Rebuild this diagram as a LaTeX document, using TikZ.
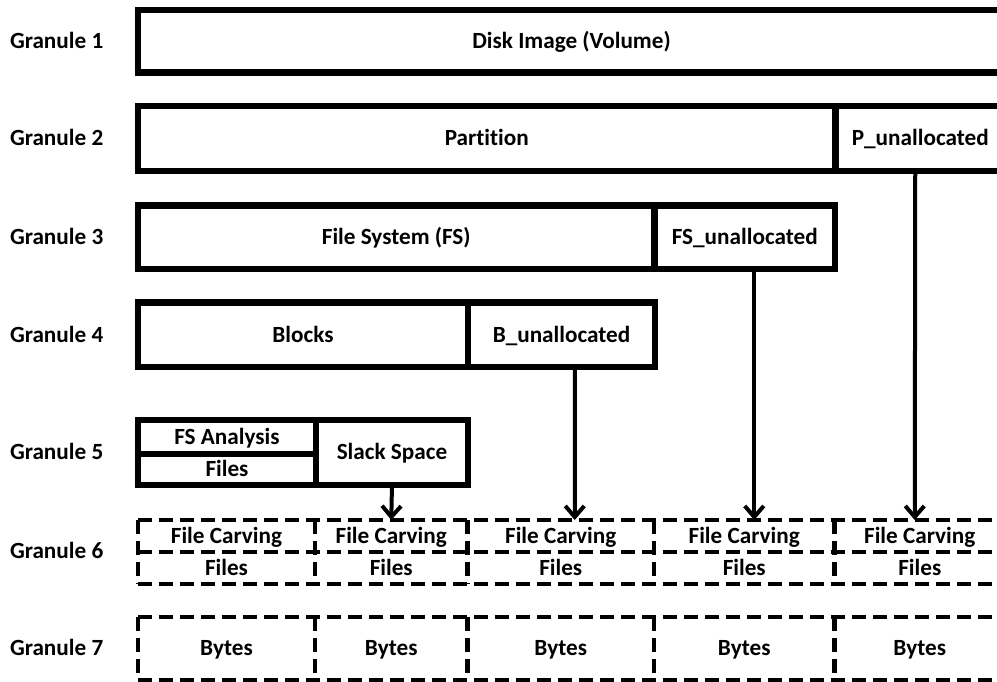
\documentclass[tikz,border=0pt]{standalone}
\usepackage{fontspec}
\setmainfont{Carlito}[RawFeature=-liga]
\usetikzlibrary{arrows.meta}
\begin{document}
\begin{tikzpicture}[x=1pt,y=-1pt,
  every node/.style={font=\fontsize{23.2}{27}\selectfont\bfseries,
    inner sep=0pt, outer sep=0pt, text height=14.8pt, text depth=0pt},
  lbl/.style={anchor=west},
  solidbox/.style={draw, rectangle, line width=6.5pt},
  cellbox/.style={rectangle},
  dashline/.style={line width=4.5pt, dash pattern=on 14pt off 7pt},
  arr/.style={line width=4pt, -{Straight Barb[length=11pt,width=19pt]}}]
\useasboundingbox (0,0) rectangle (997,681);
\clip (0,0) rectangle (997,681);

% row labels
\node[lbl] (g1) at (10,41.25) {Granule 1};
\node[lbl] (g2) at (10,138.5) {Granule 2};
\node[lbl] (g3) at (10,237.25) {Granule 3};
\node[lbl] (g4) at (10,334.75) {Granule 4};
\node[lbl] (g5) at (10,452.5) {Granule 5};
\node[lbl] (g6) at (10,551) {Granule 6};
\node[lbl] (g7) at (10,648.5) {Granule 7};

% granule 1
\node[solidbox, minimum width=867pt, minimum height=62.5pt] (disk) at (571.5,41.25) {Disk Image (Volume)};
% granule 2
\node[solidbox, minimum width=697.5pt, minimum height=65pt] (part) at (486.75,138.5) {Partition};
\node[solidbox, minimum width=169.5pt, minimum height=65pt] (pun) at (920.25,138.5) {P\_unallocated};
% granule 3
\node[solidbox, minimum width=516.5pt, minimum height=63.5pt] (fs) at (396.25,237.25) {File System (FS)};
\node[solidbox, minimum width=180.5pt, minimum height=63.5pt] (fsun) at (744.75,237.25) {FS\_unallocated};
% granule 4
\node[solidbox, minimum width=330pt, minimum height=64.5pt] (blocks) at (303,334.75) {Blocks};
\node[solidbox, minimum width=187pt, minimum height=64.5pt] (bun) at (561.5,334.75) {B\_unallocated};
% granule 5
\node[solidbox, minimum width=178pt, minimum height=34pt] (fsa) at (227,437) {FS Analysis};
\node[solidbox, minimum width=178pt, minimum height=31pt] (files5) at (227,469.5) {Files};
\node[solidbox, minimum width=152pt, minimum height=65pt] (slack) at (392,452.5) {Slack Space};

% granules 6 and 7: one column per source region
\foreach \i/\xa/\xb in {1/138/315, 2/315/467.5, 3/467.5/654, 4/654/834.5, 5/834.5/1005} {
  \pgfmathsetmacro\cx{(\xa+\xb)/2}
  \pgfmathsetmacro\w{\xb-\xa}
  \node[cellbox, minimum width=\w pt, minimum height=32pt] (fc\i) at (\cx,536) {File Carving};
  \node[cellbox, minimum width=\w pt, minimum height=32pt] (fl\i) at (\cx,568) {Files};
  \node[cellbox, minimum width=\w pt, minimum height=63pt] (by\i) at (\cx,648.5) {Bytes};
}

% dashed grid of granule 6
\draw[dashline] (fc1.north west) -- (fc5.north east);
\draw[dashline] (fl1.north west) -- (fl5.north east);
\draw[dashline] (fl1.south west) -- (fl5.south east);
\foreach \i in {1,...,5} {
  \draw[dashline] (fc\i.north west) -- (fl\i.south west);
  \draw[dashline] (by\i.north west) -- (by\i.south west);
}
\draw[dashline] (fc5.north east) -- (fl5.south east);
% dashed grid of granule 7
\draw[dashline] (by1.north west) -- (by5.north east);
\draw[dashline] (by1.south west) -- (by5.south east);
\draw[dashline] (by5.north east) -- (by5.south east);

% unallocated regions feed file carving
\draw[arr] (slack.south) -- (fc2.north);
\draw[arr] ([xshift=13.5pt]bun.south) -- ([xshift=14pt]fc3.north);
\draw[arr] ([xshift=9.5pt]fsun.south) -- ([xshift=10pt]fc4.north);
\draw[arr] ([xshift=-5pt]pun.south) -- ([xshift=-5pt]fc5.north);
\end{tikzpicture}
\end{document}
